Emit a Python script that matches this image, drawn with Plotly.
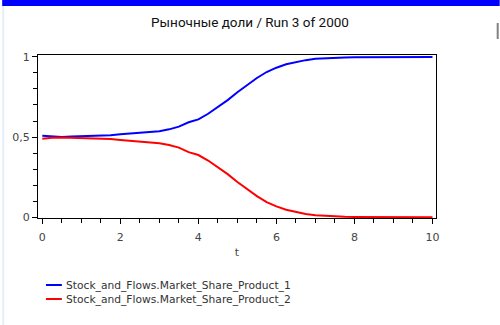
import plotly.graph_objects as go

# ---- data ----
t = [0, 0.25, 0.5, 0.75, 1, 1.25, 1.5, 1.75, 2, 2.25, 2.5, 2.75, 3, 3.25, 3.5, 3.75,
     4, 4.25, 4.5, 4.75, 5, 5.25, 5.5, 5.75, 6, 6.25, 6.5, 6.75, 7, 7.25, 7.5, 7.75,
     8, 8.5, 9, 9.5, 10]
share_1 = [0.508, 0.503, 0.501, 0.503, 0.505, 0.505, 0.506, 0.511, 0.517, 0.521, 0.528, 0.530,
           0.536, 0.548, 0.565, 0.592, 0.610, 0.645, 0.685, 0.730, 0.779, 0.826, 0.868, 0.905,
           0.932, 0.953, 0.968, 0.979, 0.987, 0.991, 0.994, 0.996, 0.997, 0.998, 0.999, 0.999, 0.999]
share_2 = [0.490, 0.496, 0.497, 0.495, 0.494, 0.494, 0.493, 0.488, 0.482, 0.478, 0.470, 0.467,
           0.462, 0.451, 0.434, 0.406, 0.388, 0.354, 0.314, 0.269, 0.220, 0.174, 0.132, 0.095,
           0.068, 0.047, 0.032, 0.021, 0.013, 0.009, 0.006, 0.004, 0.003, 0.002, 0.001, 0.001, 0.001]
series_names = ["Stock_and_Flows.Market_Share_Product_1", "Stock_and_Flows.Market_Share_Product_2"]
series_colors = ["#0000ff", "#ff0000"]
title_text = "Рыночные доли / Run 3 of 2000"
x_title = "t"

W, H = 500, 325
L, R, T, B = 36, 64, 55, 107
PW, PH = W - L - R, H - T - B

def px2x(px):
    return (px - L) / PW

def py2y(py):
    return (H - B - py) / PH

fig = go.Figure()
for vals, name, col in zip([share_1, share_2], series_names, series_colors):
    fig.add_trace(go.Scatter(x=t, y=vals, mode="lines", name=name,
                             line=dict(color=col, width=2), showlegend=False))

shapes = []
annotations = []
# manual legend
for i, (name, col) in enumerate(zip(series_names, series_colors)):
    py = 285 + i * 14
    shapes.append(dict(type="line", xref="paper", yref="paper",
                       x0=px2x(44), x1=px2x(60), y0=py2y(py), y1=py2y(py),
                       line=dict(color=col, width=2)))
    annotations.append(dict(text=name, xref="paper", yref="paper",
                            x=px2x(62), y=py2y(py), xanchor="left", yanchor="middle",
                            showarrow=False,
                            font=dict(family="DejaVu Sans", size=10.7, color="#333333")))

# window decorations
shapes.append(dict(type="rect", xref="paper", yref="paper", layer="above",
                   x0=px2x(0), x1=px2x(500), y0=py2y(6), y1=py2y(0),
                   fillcolor="#0000ff", line=dict(width=0)))
shapes.append(dict(type="rect", xref="paper", yref="paper",
                   x0=px2x(0), x1=px2x(2), y0=py2y(325), y1=py2y(6),
                   fillcolor="#e4eefa", line=dict(width=0)))
shapes.append(dict(type="rect", xref="paper", yref="paper",
                   x0=px2x(497), x1=px2x(499), y0=py2y(39), y1=py2y(23),
                   fillcolor="#808080", line=dict(width=0)))

fig.update_layout(
    width=W, height=H,
    margin=dict(l=L, r=R, t=T, b=B),
    paper_bgcolor="white", plot_bgcolor="white",
    separators=",.",
    title=dict(text=title_text, x=0.5, xref="container", xanchor="center",
               y=1 - 22 / H, yanchor="middle",
               font=dict(family="Roboto", size=13.5, color="#111111")),
    shapes=shapes, annotations=annotations,
    showlegend=False,
)
fig.update_xaxes(range=[-0.11, 10.09], tickvals=[0, 2, 4, 6, 8, 10],
                 ticks="outside", ticklen=5, tickcolor="black", showgrid=False, zeroline=False,
                 showline=True, linecolor="black", linewidth=1, mirror=True,
                 ticklabelstandoff=4,
                 minor=dict(dtick=0.5, ticks="outside", ticklen=4, tickcolor="black", showgrid=False),
                 tickfont=dict(family="DejaVu Sans", size=11, color="#444444"),
                 title=dict(text=x_title, standoff=5,
                            font=dict(family="DejaVu Sans", size=11, color="#444444")))
fig.update_yaxes(range=[-0.004, 1.011], tickvals=[0, 0.5, 1],
                 ticks="outside", ticklen=5, tickcolor="black", showgrid=False, zeroline=False,
                 showline=True, linecolor="black", linewidth=1, mirror=True,
                 minor=dict(dtick=0.1, ticks="outside", ticklen=4, tickcolor="black", showgrid=False),
                 tickfont=dict(family="DejaVu Sans", size=11, color="#444444"))

fig.write_html("out.html")
